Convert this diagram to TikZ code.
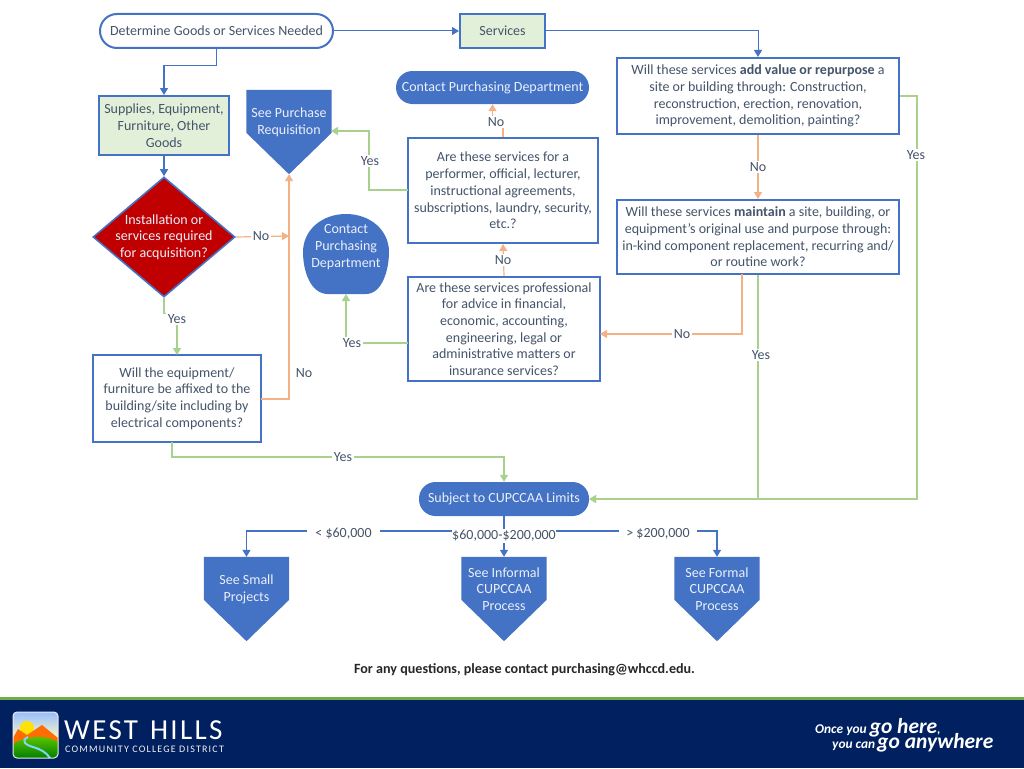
\documentclass[tikz,border=0pt]{standalone}
\usepackage{fontspec}
\setmainfont{Carlito}
\usetikzlibrary{arrows.meta, calc, shapes}

\definecolor{wblue}{HTML}{4472C4}
\definecolor{wgreen}{HTML}{A9D18E}
\definecolor{worange}{HTML}{F4B183}
\definecolor{wtext}{HTML}{44546A}
\definecolor{wpale}{HTML}{E2F0D9}
\definecolor{wred}{HTML}{C00000}
\definecolor{wnavy}{HTML}{002060}
\definecolor{wlight}{HTML}{EAF0FA}
\definecolor{wbar}{HTML}{70AD47}

\newcommand{\tightlines}{\lineskiplimit=-100pt\relax}

% off-page marker: name, middle x, top y, text
\newcommand{\offpage}[4]{
  \node[pagebox] (#1) at (#2,#3+42) {};
  \fill[wblue] (#1.north west) -- (#1.north east) -- ($(#1.north east)+(0,43)$)
    -- (#1.south) -- ($(#1.north west)+(0,43)$) -- cycle;
  \node[fillsty] (#1txt) at (#2,#3+32) {#4};
}

\begin{document}
\begin{tikzpicture}[
  x=1pt, y=-1pt,
  every node/.style={align=center, font=\fontsize{14}{16.7}\selectfont, text=wtext},
  boxsty/.style={draw=wblue, line width=2pt, fill=white, inner sep=0pt},
  termsty/.style={draw=wblue, line width=2pt, fill=white, rounded corners=17pt, inner sep=0pt},
  goodsty/.style={draw=wblue, line width=2pt, fill=wpale, inner sep=0pt},
  pillsty/.style={fill=wblue, text=wlight, rounded corners=16.5pt, inner sep=0pt},
  pagebox/.style={minimum width=85pt, minimum height=84pt, inner sep=0pt},
  fillsty/.style={text=wlight, inner sep=0pt},
  decide/.style={diamond, draw=wblue, line width=1.6pt, fill=wred, aspect=1.18, inner sep=0pt, minimum width=142pt, minimum height=120pt},
  bluesty/.style={draw=wblue, line width=1.3pt, -{Triangle[width=8pt,length=7pt]}},
  thinblue/.style={draw=wblue, line width=1pt, -{Triangle[width=8pt,length=7pt]}},
  yessty/.style={draw=wgreen, line width=1.2pt, -{Triangle[width=8pt,length=7pt]}},
  nosty/.style={draw=worange, line width=1.2pt, -{Triangle[width=8pt,length=7pt]}},
  lab/.style={fill=white, inner sep=1.5pt}
]
\useasboundingbox (0,0) rectangle (1024,768);

% boxes along the top
  \node[termsty, minimum width=233pt, minimum height=34pt] (need) at (216.5,31) {Determine Goods or Services Needed};
  \node[goodsty, minimum width=85pt, minimum height=34pt] (serv) at (502.5,31) {Services};
  \node[goodsty, minimum width=130pt, minimum height=59pt] (good) at (164,125.5) {Supplies, Equipment,\\Furniture, Other\\Goods};

  \node[boxsty, minimum width=282pt, minimum height=76pt] (addv) at (758,96) {Will these services \textbf{add value or repurpose} a\\site or building through: Construction,\\reconstruction, erection, renovation,\\improvement, demolition, painting?};
  \node[boxsty, minimum width=282pt, minimum height=74pt] (mant) at (758,237) {Will these services \textbf{maintain} a site, building, or\\equipment's original use and purpose through:\\in-kind component replacement, recurring and/\\or routine work?};

  \node[pillsty, minimum width=193pt, minimum height=33pt] (cont) at (492.5,87.5) {Contact Purchasing Department};
  \node[boxsty, minimum width=190pt, minimum height=105pt] (perf) at (503,190.5) {Are these services for a\\performer, official, lecturer,\\instructional agreements,\\subscriptions, laundry, security,\\etc.?};
  \node[boxsty, minimum width=192pt, minimum height=104pt] (prof) at (504,329) {Are these services professional\\for advice in financial,\\economic, accounting,\\engineering, legal or\\administrative matters or\\insurance services?};

  % contact blob
  \fill[wblue] (346,214) .. controls (322,214) and (303,230) .. (303,252) .. controls (303,270) and (310,294) .. (328,294)
    -- (366,294) .. controls (382,294) and (389,270) .. (389,252) .. controls (389,230) and (370,214) .. (346,214);
  \node[fillsty] (blob) at (346,247) {Contact\\Purchasing\\Department};
  \coordinate (blobs) at (346,294);

  \node[decide] (inst) at (164,237) {};
  \node[fillsty] (insttxt) at (164,237) {Installation or\\services required\\for acquisition?};
  \node[boxsty, minimum width=168pt, minimum height=87pt] (afix) at (177,398.5) {Will the equipment/\\furniture be affixed to the\\building/site including by\\electrical components?};

  \node[pillsty, minimum width=170pt, minimum height=34pt] (subj) at (504,499) {Subject to CUPCCAA Limits};

  \offpage{purch}{289}{90}{See Purchase\\Requisition}
  \offpage{small}{246.5}{557}{See Small\\Projects}
  \offpage{info}{504}{557}{See Informal\\CUPCCAA\\Process}
  \offpage{form}{717}{557}{See Formal\\CUPCCAA\\Process}

% connectors
  \coordinate (purchin) at (331,131);
  \coordinate (profin) at (600,334);
  \coordinate (mantno) at (742,274);
  \coordinate (affixno) at (261,399);
  \coordinate (affixyes) at (172,442);
  \coordinate (perfout) at (408,190);
  \coordinate (profout) at (408,343);
  \coordinate (instyes) at (177,355);
  \coordinate (split) at (504,531);

  \draw[thinblue] (need.east) -- (serv.west);
  \draw[bluesty] (need.south) -- +(0,16.5) -| (good.north);
  \draw[bluesty] (good.south) -- (inst.north);
  \draw[thinblue] (serv.east) -| (addv.north);

  \draw[nosty] (addv.south) -- (mant.north);
  \draw[yessty] (addv.east) -- +(17,0) |- (subj.east);
  \draw[yessty] (mant.south) |- (subj.east);
  \draw[nosty] (mantno) |- (profin);
  \draw[nosty] (prof.north) -- (perf.south);
  \draw[nosty] (perf.north) -- +(0,-14) -| (cont.south);
  \draw[yessty] (perfout) -- +(-39,0) |- (purchin);
  \draw[yessty] (profout) -| (blobs);
  \draw[nosty] (inst.east) -- (289,236);
  \draw[nosty] (affixno) -| (purch.south);
  \draw[yessty] (inst.south) -- +(0,16) -| (instyes);
  \draw[yessty] (affixyes) -- +(0,15) -| (subj.north);
  \draw[bluesty] (subj.south) -- (info.north);
  \draw[bluesty] (split) -| (small.north);
  \draw[bluesty] (split) -| (form.north);

% labels on the lines
  \node[lab] (n1) at (758,167) {No};
  \node[lab] (y1) at (916,155) {Yes};
  \node[lab] (y2) at (761,355) {Yes};
  \node[lab] (n2) at (682,334) {No};
  \node[lab] (n3) at (503,260) {No};
  \node[lab] (n4) at (496,122) {No};
  \node[lab] (y3) at (370,161) {Yes};
  \node[lab] (y4) at (352,343) {Yes};
  \node[lab] (n5) at (261,236) {No};
  \node (n6) at (304,373) {No};
  \node[lab] (y5) at (177,319) {Yes};
  \node[lab] (y6) at (343,457) {Yes};
  \node[lab, inner xsep=8pt] (l1) at (343.5,533.5) {< \$60,000};
  \node[lab, inner xsep=0pt] (l2) at (504,536) {\$60,000-\$200,000};
  \node[lab, inner xsep=7pt] (l3) at (658,533.5) {> \$200,000};

  \node[font=\fontsize{14.1}{16}\selectfont\bfseries, text=black!85] (ask) at (524.5,670) {For any questions, please contact purchasing@whccd.edu.};

% footer
  \fill[wnavy] (0,699) rectangle (1024,768);
  \fill[wbar] (0,697) rectangle (1024,700);

  % logo
  \begin{scope}
    \clip[rounded corners=4pt] (13,712) rectangle (58,758);
    \shade[top color=cyan!35!blue!40!white, bottom color=yellow!25!white] (13,712) rectangle (58,740);
    \fill[yellow!85!orange] (27,728) circle (7);
    \fill[orange!85!red] (13,738) -- (18,729) -- (27,735) -- (42,725) -- (58,738) -- (58,745) -- (13,745) -- cycle;
    \shade[top color=green!50!yellow!80!black, bottom color=green!50!black] (13,744) .. controls (25,736) and (45,734) .. (58,742) -- (58,758) -- (13,758) -- cycle;
    \draw[cyan!50!white, line width=2pt] (28,737) .. controls (20,741) and (26,745) .. (33,747) .. controls (40,749) and (46,752) .. (50,758);
  \end{scope}
  \draw[white!85!gray, line width=1pt, rounded corners=4pt] (13,712) rectangle (58,758);

  \node[inner sep=0pt, text=white, font=\fontsize{29}{29}\selectfont\addfontfeature{LetterSpace=8}, anchor=west] (west) at (64,730) {WEST\hspace{12pt}HILLS};
  \node[inner sep=0pt, text=white!90!gray, font=\fontsize{10}{10}\selectfont\addfontfeature{LetterSpace=12}, anchor=west] (comm) at (65,749) {COMMUNITY COLLEGE DISTRICT};

  \node[inner sep=0pt, text=white, font=\fontsize{21.5}{15}\selectfont\bfseries\itshape\tightlines, align=left, anchor=north west] (once) at (815,718)
    {{\fontsize{13.4}{15}\selectfont Once you}\hspace{3pt}go here{\fontsize{12}{15}\selectfont ,}\\\hspace{17pt}{\fontsize{13.4}{15}\selectfont you can}\hspace{2pt}go anywhere};
\end{tikzpicture}
\end{document}
